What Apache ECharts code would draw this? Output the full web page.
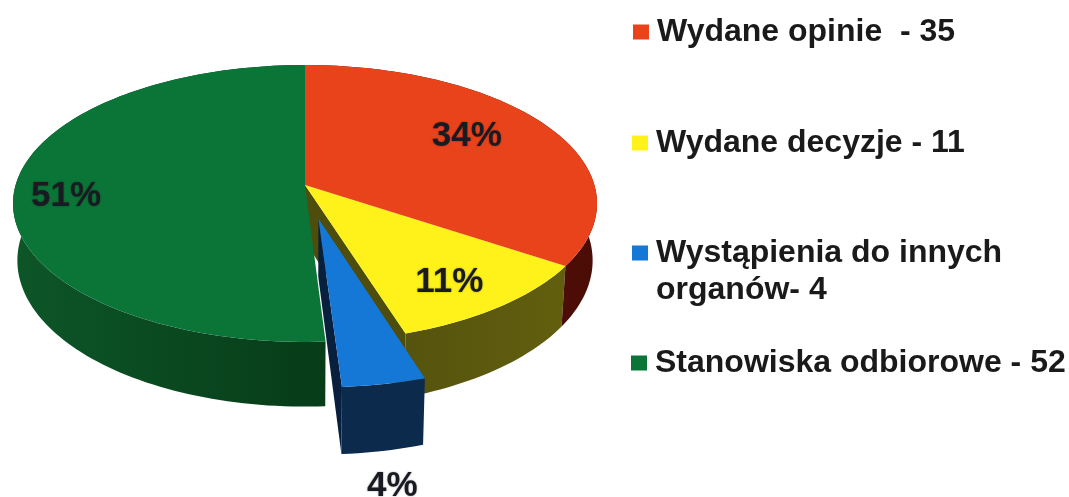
<!DOCTYPE html>
<html>
<head>
<meta charset="utf-8">
<title>Pie</title>
<style>
    html,body{margin:0;padding:0;background:#fff;}
    #main{width:1069px;height:497px;}
</style>
</head>
<body>
<div id="main"></div>
<script src="https://cdn.jsdelivr.net/npm/echarts@6/dist/echarts.min.js"></script>
<script>
    // dane z wykresu
    var categories = ['Wydane opinie', 'Wydane decyzje', 'Wystąpienia do innych organów', 'Stanowiska odbiorowe'];
    var values = [35, 11, 4, 52];
    var legendLines = [['Wydane opinie  - 35'], ['Wydane decyzje - 11'], ['Wystąpienia do innych', 'organów- 4'], ['Stanowiska odbiorowe - 52']];

    var topColors = ['#e8431b', '#fff21a', '#1577d6', '#0b7437'];
    var sideColors = [['#5a1008', '#4a0d06'], ['#55530e', '#625f0e'], ['#0c2a4c', '#0c2a4c'], ['#0d5628', '#073c19']];
    var wallColor = ['#4a0e06', '#4f4d0c', '#081f3d', '#073f1b'];
    var exploded = [0, 0, 0.245, 0];     // wysuniety kawalek
    var zOrder = [3, 1, 4, 2];           // kolejnosc rysowania
    var labelAt = [[0.587, -0.375], [0.455, 0.655], [0.233, 1.71], [-0.817, 0.08]];   // na tarczy
    var legendTop = [16, 127, 237, 347];
    var legendLeft = [633, 632, 632, 631];

    // rzut tarczy z perspektywa
    var cx = 305, cy = 185, rx = 289.4, ry = 136, persp = 0.1336, depth = 56, shrink = 0.985;

    function project(u, v) {
        var w = 1 - persp * v;
        return [cx + rx * u / w, cy + ry * v / w];
    }
    function drop(p, v) {
        return [cx + (p[0] - cx) * shrink, p[1] + depth / (1 - persp * v)];
    }

    var total = values.reduce(function (a, b) { return a + b; }, 0);
    var angles = [];
    var sum = 0;
    values.forEach(function (val) {
        var start = sum / total * Math.PI * 2;
        sum += val;
        angles.push([start, sum / total * Math.PI * 2]);
    });

    function renderSlice(params, api, idx) {
        var a0 = angles[idx][0], a1 = angles[idx][1], mid = (a0 + a1) / 2;
        var du = Math.sin(mid) * exploded[idx], dv = -Math.cos(mid) * exploded[idx];
        var steps = Math.max(8, Math.round((a1 - a0) * 40));
        var arcTop = [], arcBottom = [];
        for (var i = 0; i <= steps; i++) {
            var a = a0 + (a1 - a0) * i / steps;
            var u = Math.sin(a) + du, v = -Math.cos(a) + dv;
            var p = project(u, v);
            arcTop.push(p);
            arcBottom.push(drop(p, v));
        }
        var apex = project(du, dv);
        var apexBottom = drop(apex, dv);
        var kids = [];

        // sciana wewnetrzna widoczna tylko przy wysunietym kawalku
        var nextIdx = (idx + 1) % values.length;
        if ((exploded[idx] || exploded[nextIdx]) && Math.sin(a1) > 0) {
            kids.push({
                type: 'polygon',
                shape: {points: [apex, arcTop[steps], arcBottom[steps], apexBottom]},
                style: {fill: wallColor[idx]}
            });
        }
        kids.push({
            type: 'polygon',
            shape: {points: arcTop.concat(arcBottom.slice().reverse())},
            style: {
                fill: new echarts.graphic.LinearGradient(0, 0, 1, 0, [
                    {offset: 0, color: sideColors[idx][0]},
                    {offset: 1, color: sideColors[idx][1]}
                ])
            }
        });
        kids.push({
            type: 'polygon',
            shape: {points: [apex].concat(arcTop)},
            style: {fill: topColors[idx]}
        });
        var lab = project(labelAt[idx][0], labelAt[idx][1]);
        kids.push({
            type: 'text',
            style: {
                x: lab[0],
                y: lab[1],
                text: Math.round(api.value(0) / total * 100) + '%',
                fill: '#1a1a22',
                font: 'bold 35px "Liberation Sans"',
                align: 'center',
                verticalAlign: 'middle',
                textShadowColor: 'rgba(0,0,0,0.35)',
                textShadowBlur: 2
            }
        });
        return {type: 'group', children: kids};
    }

    var myChart = echarts.init(document.getElementById('main'));
    var option = {
        animation: false,
        backgroundColor: '#ffffff',
        legend: categories.map(function (c, i) {
            return {
                left: legendLeft[i],
                top: legendTop[i],
                padding: 0,
                selectedMode: false,
                icon: 'rect',
                itemWidth: 16,
                itemHeight: 15,
                data: [legendLines[i][0]],
                textStyle: {color: '#1a1a1a', fontFamily: 'Liberation Sans', fontWeight: 'bold', fontSize: 32, padding: [0, 0, 0, 3]}
            };
        }),
        graphic: [{
            type: 'text',
            left: 656,
            top: 274,
            style: {text: legendLines[2][1], fill: '#1a1a1a', font: 'bold 32px "Liberation Sans"'}
        }],
        series: categories.map(function (c, i) {
            return {
                type: 'custom',
                name: legendLines[i][0],
                coordinateSystem: 'none',
                z: zOrder[i],
                silent: true,
                itemStyle: {color: topColors[i]},
                data: [[values[i]]],
                renderItem: function (params, api) {
                    return renderSlice(params, api, i);
                }
            };
        })
    };
    myChart.setOption(option);
</script>
</body>
</html>
